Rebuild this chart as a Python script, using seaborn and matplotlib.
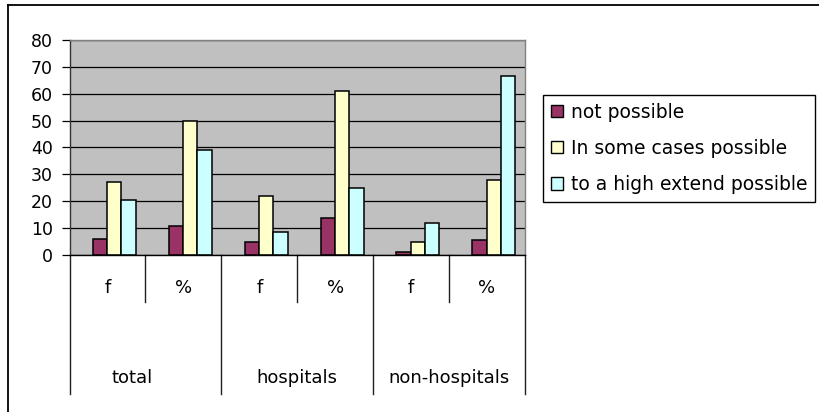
import numpy as np
import pandas as pd
import matplotlib
matplotlib.use("Agg")
import matplotlib.pyplot as plt
from matplotlib.lines import Line2D
from matplotlib.patches import Patch
import seaborn as sns

# ---- data ----
groups = ["total", "hospitals", "non-hospitals"]
measures = ["f", "%"]
series = ["not possible", "In some cases possible", "to a high extend possible"]
not_possible = [6, 10.8, 5, 13.9, 1, 5.6]
some_cases = [27, 50, 22, 61.1, 5, 27.8]
high_extend = [20.5, 38.9, 8.7, 25, 12, 66.7]
colors = ["#993366", "#FFFFCC", "#CCFFFF"]
yticks = list(range(0, 81, 10))

categories = [f"{g} {m}" for g in groups for m in measures]
rows = []
for name, vals in zip(series, [not_possible, some_cases, high_extend]):
    for cat, v in zip(categories, vals):
        rows.append({"category": cat, "series": name, "value": v})
df = pd.DataFrame(rows)

plt.rcParams["font.family"] = ["DejaVu Sans"]
W, H = 819, 412
fig = plt.figure(figsize=(W / 100, H / 100), dpi=100, facecolor="white")
ax_l, ax_r, ax_t, ax_b = 69.5, 525, 40, 255
ax = fig.add_axes([ax_l / W, 1 - ax_b / H, (ax_r - ax_l) / W, (ax_b - ax_t) / H])
ax.set_facecolor("#C0C0C0")

sns.barplot(data=df, x="category", y="value", hue="series", order=categories,
            hue_order=series, palette=colors, width=0.567, gap=0, saturation=1,
            edgecolor="black", linewidth=1.1, legend=False, ax=ax)

ax.set_xlim(-0.59, 5.41)
ax.set_ylim(0, 80)
ax.set_yticks(yticks)
ax.set_yticklabels([str(t) for t in yticks], fontsize=12.5)
ax.yaxis.grid(True, color="black", linewidth=0.9)
ax.set_axisbelow(True)
ax.tick_params(axis="y", direction="out", length=6, width=0.9, pad=6, colors="black")
ax.set_xticks([])
ax.set_xlabel("")
ax.set_ylabel("")
for s in ["top", "right"]:
    ax.spines[s].set_color("#808080")
    ax.spines[s].set_linewidth(1.0)
ax.spines["left"].set_color("#333333")
ax.spines["bottom"].set_color("black")
for s in ["left", "bottom"]:
    ax.spines[s].set_linewidth(1.0)

# multi-level category axis
axis_h = ax_b - ax_t
short_y = -(302 - ax_b) / axis_h
long_y = -(394 - ax_b) / axis_h
n = len(categories)
for k in range(n + 1):
    y_end = short_y if k % 2 == 1 else long_y
    ax.plot([k / n, k / n], [0, y_end], color="#202020", lw=1.0,
            transform=ax.transAxes, clip_on=False)
for k, cat in enumerate(categories):
    ax.text((k + 0.5) / n, -(288 - ax_b) / axis_h, cat.split(" ")[-1],
            transform=ax.transAxes, ha="center", va="center", fontsize=13)
for gx, g in zip([0.138, 0.5, 0.833], groups):
    ax.text(gx, -(378 - ax_b) / axis_h, g, transform=ax.transAxes,
            ha="center", va="center", fontsize=13)

handles = [Patch(facecolor=c, edgecolor="black", linewidth=1.0) for c in colors]
leg = ax.legend(handles, series, loc="upper left", bbox_to_anchor=(543 / W, 1 - 95 / H),
                bbox_transform=fig.transFigure, borderaxespad=0, fontsize=13.5,
                handlelength=0.65, handleheight=0.65, handletextpad=0.45,
                borderpad=0.4, labelspacing=0.92, fancybox=False, framealpha=1,
                edgecolor="black")
leg.get_frame().set_linewidth(1.0)

# outer chart border (top and left visible)
fig.add_artist(Line2D([8 / W, 1.0], [1 - 5 / H, 1 - 5 / H], color="black", lw=1.3,
                      transform=fig.transFigure))
fig.add_artist(Line2D([8 / W, 8 / W], [0, 1 - 5 / H], color="black", lw=1.3,
                      transform=fig.transFigure))

fig.savefig("out.png", dpi=100, facecolor="white")
